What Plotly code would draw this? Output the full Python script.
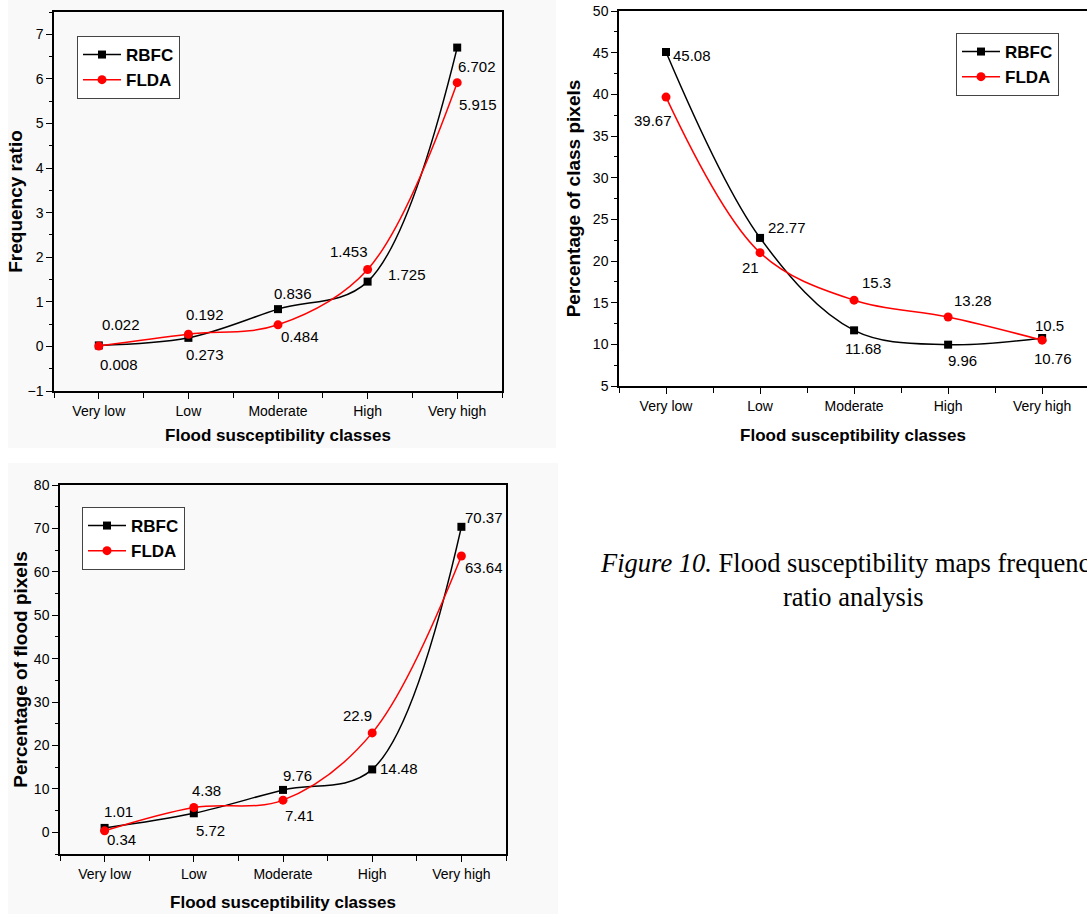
import plotly.graph_objects as go

# ---------------- data ----------------
categories = ["Very low", "Low", "Moderate", "High", "Very high"]

fr_rbfc = [0.022, 0.192, 0.836, 1.453, 6.702]
fr_flda = [0.008, 0.273, 0.484, 1.725, 5.915]

class_rbfc = [45.08, 22.77, 11.68, 9.96, 10.76]
class_flda = [39.67, 21, 15.3, 13.28, 10.5]

flood_rbfc = [1.01, 4.38, 9.76, 14.48, 70.37]
flood_flda = [0.34, 5.72, 7.41, 22.9, 63.64]

series_names = ["RBFC", "FLDA"]
x_title = "Flood susceptibility classes"
y_titles = ["Frequency ratio", "Percentage of class pixels", "Percentage of flood pixels"]
caption_line1 = "<i>Figure 10.</i> Flood susceptibility maps frequency"
caption_line2 = "ratio analysis"

# ---------------- layout helpers ----------------
W, H = 1087, 914
FONT = "Liberation Sans, Arial, sans-serif"
x_idx = list(range(len(categories)))

def px_x(p):
    return p / W

def px_y(p):
    return 1 - p / H

# label offsets (dx, dy) in pixels, dy positive = down
offsets = {
    "fr_rbfc": [(22, -21), (17, -23), (15, -16), (-19, -30), (20, 19)],
    "fr_flda": [(20, 18), (17, 20), (22, 12), (39, 5), (21, 22)],
    "class_rbfc": [(26, 3), (27, -10), (9, 18), (14, 16), (11, 20)],
    "class_flda": [(-13, 23), (-10, 15), (22, -18), (25, -17), (7, -15)],
    "flood_rbfc": [(14, -16), (13, -23), (14, -14), (27, -1), (23, -9)],
    "flood_flda": [(17, 9), (17, 23), (16, 15), (-15, -17), (23, 11)],
}

panels = [
    dict(ax="x", ay="y", rbfc=fr_rbfc, flda=fr_flda, key="fr", legend="legend"),
    dict(ax="x2", ay="y2", rbfc=class_rbfc, flda=class_flda, key="class", legend="legend2"),
    dict(ax="x3", ay="y3", rbfc=flood_rbfc, flda=flood_flda, key="flood", legend="legend3"),
]

fig = go.Figure()
annotations = []

for p in panels:
    fig.add_trace(go.Scatter(
        x=x_idx, y=p["rbfc"], mode="lines+markers", name=series_names[0],
        line=dict(color="black", width=1.5, shape="spline", smoothing=1),
        marker=dict(symbol="square", size=8, color="black"),
        xaxis=p["ax"], yaxis=p["ay"], legend=p["legend"],
    ))
    fig.add_trace(go.Scatter(
        x=x_idx, y=p["flda"], mode="lines+markers", name=series_names[1],
        line=dict(color="#ff0000", width=1.5, shape="spline", smoothing=1),
        marker=dict(symbol="circle", size=9, color="#ff0000"),
        xaxis=p["ax"], yaxis=p["ay"], legend=p["legend"],
    ))
    for sname, vals in (("rbfc", p["rbfc"]), ("flda", p["flda"])):
        for i, v in enumerate(vals):
            dx, dy = offsets[p["key"] + "_" + sname][i]
            annotations.append(dict(
                x=x_idx[i], y=v, xref=p["ax"], yref=p["ay"], text=f"{v:g}",
                showarrow=False, xshift=dx, yshift=-dy,
                font=dict(family=FONT, size=15, color="black"),
            ))

def xaxis_cfg(domain, xrange, anchor, standoff):
    return dict(
        domain=domain, range=xrange, anchor=anchor, automargin=False,
        tickmode="array", tickvals=x_idx, ticktext=categories,
        ticks="outside", ticklen=6, tickwidth=1.2, tickcolor="black",
        minor=dict(tickmode="array", tickvals=[i - 0.5 for i in range(len(categories) + 1)],
                   ticks="outside", ticklen=5, tickwidth=1.2, tickcolor="black"),
        showline=True, linecolor="black", linewidth=1.5, mirror=True,
        showgrid=False, zeroline=False,
        tickfont=dict(family=FONT, size=14, color="black"),
        title=dict(text=f"<b>{x_title}</b>", standoff=standoff,
                   font=dict(family=FONT, size=17, color="black")),
    )

def yaxis_cfg(domain, yrange, dtick, anchor, title, standoff, mirror=True):
    return dict(
        domain=domain, range=yrange, anchor=anchor, automargin=False,
        dtick=dtick, tick0=0,
        ticks="outside", ticklen=6, tickwidth=1.2, tickcolor="black",
        minor=dict(dtick=dtick / 2, tick0=0, ticks="outside", ticklen=3,
                   tickwidth=1.2, tickcolor="black"),
        showline=True, linecolor="black", linewidth=1.5, mirror=mirror,
        showgrid=False, zeroline=False,
        tickfont=dict(family=FONT, size=14, color="black"),
        title=dict(text=f"<b>{title}</b>", standoff=standoff,
                   font=dict(family=FONT, size=19, color="black")),
    )

legend_common = dict(
    xanchor="left", yanchor="top", bgcolor="white",
    bordercolor="#444", borderwidth=1, itemwidth=38,
    font=dict(family=FONT, size=17, color="black", weight="bold"),
    tracegroupgap=0,
)

# caption
annotations.append(dict(
    x=px_x(852), y=px_y(563), xref="paper", yref="paper", text=caption_line1,
    showarrow=False, xanchor="center", yanchor="middle",
    font=dict(family="Liberation Serif, Times New Roman, serif", size=26.5, color="black"),
))
annotations.append(dict(
    x=px_x(853), y=px_y(597), xref="paper", yref="paper", text=caption_line2,
    showarrow=False, xanchor="center", yanchor="middle",
    font=dict(family="Liberation Serif, Times New Roman, serif", size=26.5, color="black"),
))

fig.update_layout(
    width=W, height=H,
    margin=dict(l=0, r=0, t=0, b=0, pad=0, autoexpand=False),
    paper_bgcolor="white", plot_bgcolor="white",
    font=dict(family=FONT, color="black"),
    xaxis=xaxis_cfg([px_x(54), px_x(502)], [-0.5, 4.5], "y", 12),
    yaxis=yaxis_cfg([px_y(391), px_y(12)], [-1, 7.5], 1, "x", y_titles[0], 0),
    xaxis2=xaxis_cfg([px_x(619), 1.0], [-0.5, 4.477], "y2", 17),
    yaxis2=yaxis_cfg([px_y(386), px_y(11)], [5, 50], 5, "x2", y_titles[1], 7, mirror=False),
    xaxis3=xaxis_cfg([px_x(60), px_x(506)], [-0.5, 4.5], "y3", 16),
    yaxis3=yaxis_cfg([px_y(854), px_y(485)], [-5, 80], 10, "x3", y_titles[2], 1),
    legend=dict(x=px_x(77), y=px_y(36), **legend_common),
    legend2=dict(x=px_x(956), y=px_y(33), **legend_common),
    legend3=dict(x=px_x(82), y=px_y(507), **legend_common),
    annotations=annotations,
    shapes=[
        dict(type="rect", xref="paper", yref="paper", layer="below",
             x0=px_x(8), x1=px_x(556), y0=px_y(448), y1=px_y(0),
             fillcolor="#f9f9f9", line=dict(width=0)),
        dict(type="rect", xref="paper", yref="paper", layer="below",
             x0=px_x(8), x1=px_x(558), y0=px_y(914), y1=px_y(463),
             fillcolor="#f9f9f9", line=dict(width=0)),
    ],
)

fig.write_html("out.html", config={"displayModeBar": False},
               post_script="document.body.style.margin='0px';")
